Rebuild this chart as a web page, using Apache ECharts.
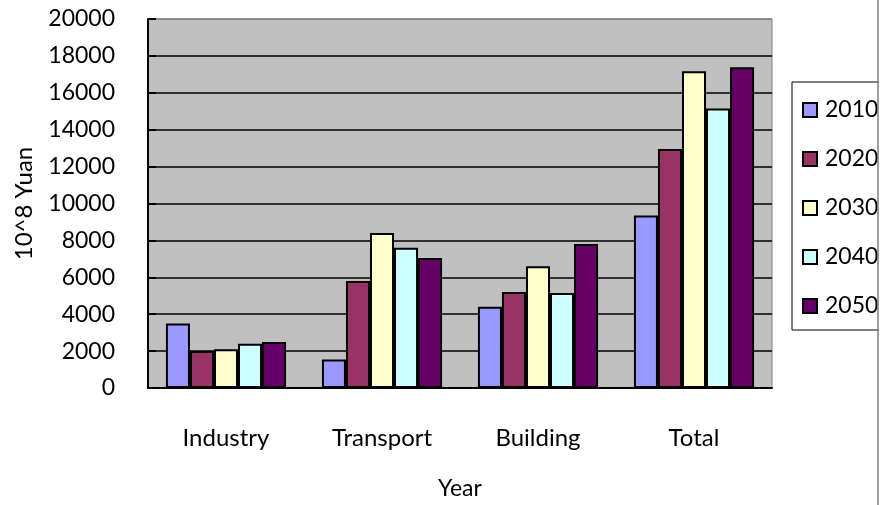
<!DOCTYPE html>
<html>
<head>
<meta charset="utf-8">
<script src="https://cdn.jsdelivr.net/npm/echarts@6/dist/echarts.min.js"></script>
<style>
  html, body { margin: 0; padding: 0; background: #fff; }
  #chart { width: 883px; height: 505px; }
</style>
</head>
<body>
<div id="chart"></div>
<script>
// ── Datos ────────────────────────────────────────────────────────────────
const categories = ['Industry', 'Transport', 'Building', 'Total'];
const years      = ['2010', '2020', '2030', '2040', '2050'];
const v2010 = [3500, 1550, 4400, 9350];
const v2020 = [2000, 5800, 5200, 12950];
const v2030 = [2100, 8400, 6600, 17170];
const v2040 = [2400, 7600, 5150, 15150];
const v2050 = [2500, 7050, 7800, 17380];
const yearColors = ['#9999FF', '#993366', '#FFFFCC', '#CCFFFF', '#660066'];

const FONT = 'Lato, "Noto Sans", sans-serif';

const chart = echarts.init(document.getElementById('chart'), null, { renderer: 'canvas' });

const seriesValues = [v2010, v2020, v2030, v2040, v2050];
const series = years.map((y, i) => ({
  name: y,
  type: 'bar',
  data: seriesValues[i],
  barGap: '0%',
  barCategoryGap: '23%',
  itemStyle: { color: yearColors[i], borderColor: '#000', borderWidth: 2 },
}));

// la última línea (20000) es el borde gris del área
const splitColors = Array(10).fill('#000').concat(['#808080']);

chart.setOption({
  animation: false,
  backgroundColor: '#fff',
  textStyle: { fontFamily: FONT },
  grid: {
    left: 148, top: 19, width: 624, height: 370,
    show: true, backgroundColor: '#C0C0C0', borderColor: '#808080', borderWidth: 1,
  },
  legend: {
    data: years,
    orient: 'vertical',
    left: 792, top: 82,
    padding: [16, 40, 12, 10],
    itemGap: 25,
    itemWidth: 14, itemHeight: 14,
    icon: 'rect',
    backgroundColor: '#fff',
    borderColor: '#000',
    borderWidth: 1,
    borderRadius: 0,
    textStyle: { fontFamily: FONT, fontSize: 23, color: '#000', lineHeight: 24, padding: [0, 0, 0, 3] },
  },
  xAxis: {
    type: 'category',
    data: categories,
    name: 'Year',
    nameLocation: 'middle',
    nameGap: 89,
    nameTextStyle: { fontFamily: FONT, fontSize: 23, color: '#000' },
    axisLine: { lineStyle: { color: '#000', width: 2 } },
    axisTick: { inside: true, length: 11, lineStyle: { color: '#000', width: 1.5 } },
    axisLabel: { margin: 38, fontSize: 24, color: '#000', fontFamily: FONT },
  },
  yAxis: {
    type: 'value',
    min: 0, max: 20000, interval: 2000,
    name: '10^8 Yuan',
    nameLocation: 'middle',
    nameGap: 112,
    nameTextStyle: { fontFamily: FONT, fontSize: 24, color: '#000' },
    axisLine: { show: true, lineStyle: { color: '#000', width: 2 } },
    axisTick: { show: true, inside: true, length: 8, lineStyle: { color: '#000', width: 2 } },
    axisLabel: { margin: 33, fontSize: 23, color: '#000', fontFamily: FONT, formatter: v => String(v) },
    splitLine: { show: true, lineStyle: { color: splitColors, width: 1.5 } },
  },
  graphic: [
    { type: 'rect', shape: { x: 879, y: 0, width: 4, height: 505 }, style: { fill: '#fff' }, z: 100 },
    { type: 'line', shape: { x1: 878, y1: 0, x2: 878, y2: 505 }, style: { stroke: '#808080', lineWidth: 1.5 }, z: 100 },
  ],
  series,
});
</script>
</body>
</html>
